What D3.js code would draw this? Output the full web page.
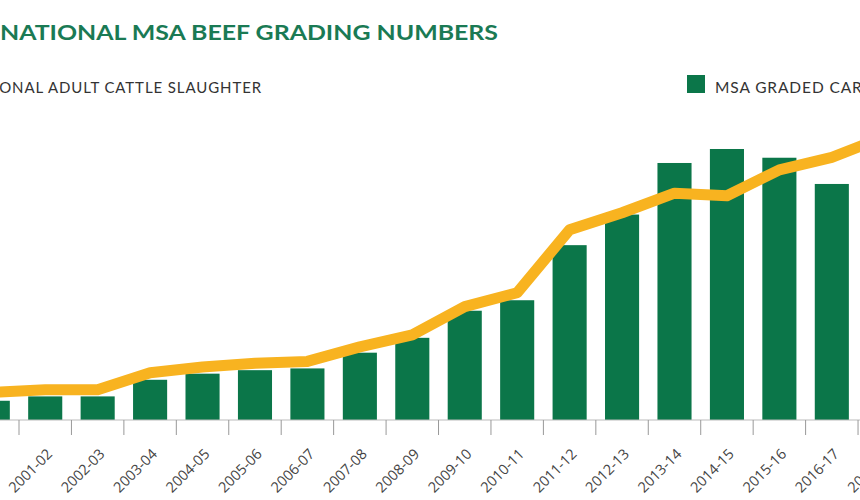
<!DOCTYPE html>
<html>
<head>
<meta charset="utf-8">
<script src="https://cdnjs.cloudflare.com/ajax/libs/d3/7.8.5/d3.min.js"></script>
<style>
  body { margin: 0; background: #fff; }
  svg { display: block; }
  .title { font-family: Lato, "Open Sans", sans-serif; font-weight: 700; fill: #1a7a54; }
  .legend { font-family: Lato, "Open Sans", sans-serif; fill: #333; }
  .tickLabel { font-family: "Open Sans", sans-serif; font-size: 14.5px; fill: #444; }
</style>
</head>
<body>
<div class="chart"></div>
<script>
// seasons (first and last are cut by the picture frame)
var seasons = ["2000-01", "2001-02", "2002-03", "2003-04", "2004-05", "2005-06",
    "2006-07", "2007-08", "2008-09", "2009-10", "2010-11", "2011-12", "2012-13",
    "2013-14", "2014-15", "2015-16", "2016-17", "2017-18"];

// MSA graded carcases (millions, estimated)
var graded = [0.22, 0.27, 0.27, 0.46, 0.53, 0.57, 0.59, 0.77, 0.94, 1.25,
    1.37, 2.00, 2.35, 2.94, 3.10, 3.00, 2.70, 3.20];

// % of national adult cattle slaughter (estimated)
var share = [4.4, 4.8, 4.8, 7.5, 8.4, 9.0, 9.3, 11.6, 13.5, 18.0,
    20.2, 30.2, 32.9, 36.0, 35.6, 39.7, 41.7, 44.9];

var svgWidth = 860;
var svgHeight = 500;
var baseY = 420;
var step = 52.44;
var firstEdge = 19 - step;

var svg = d3.select(".chart")
    .append("svg")
    .attr("width", svgWidth)
    .attr("height", svgHeight);

var xBand = d3.scaleBand()
    .domain(seasons)
    .range([firstEdge, firstEdge + step * seasons.length])
    .paddingInner(0.35)
    .paddingOuter(0.175);

var yBar = d3.scaleLinear()
    .domain([0, 4])
    .range([baseY, baseY - 4 * 87.42]);

var yLine = d3.scaleLinear()
    .domain([0, 50])
    .range([baseY, baseY - 50 * 6.3]);

function center(d) {
    return xBand(d) + xBand.bandwidth() / 2;
}

// title
svg.append("text")
    .attr("class", "title")
    .attr("x", 0)
    .attr("y", 40)
    .attr("font-size", 20)
    .attr("textLength", 498)
    .attr("lengthAdjust", "spacingAndGlyphs")
    .text("NATIONAL MSA BEEF GRADING NUMBERS");

// legend - line series (left part is outside the frame)
svg.append("text")
    .attr("class", "legend")
    .attr("x", 262)
    .attr("y", 93)
    .attr("font-size", 15)
    .attr("letter-spacing", 0.9)
    .attr("text-anchor", "end")
    .text("% OF NATIONAL ADULT CATTLE SLAUGHTER");

// legend - bars
svg.append("rect")
    .attr("x", 687)
    .attr("y", 75)
    .attr("width", 18)
    .attr("height", 18)
    .attr("fill", "#0b7649");
svg.append("text")
    .attr("class", "legend")
    .attr("x", 715)
    .attr("y", 93)
    .attr("font-size", 15.5)
    .attr("letter-spacing", 0.9)
    .text("MSA GRADED CARCASES");

var chart = svg.append("g");

chart.selectAll("rect.bar")
    .data(seasons)
    .enter().append("rect")
        .attr("class", "bar")
        .attr("x", function(d) { return xBand(d); })
        .attr("y", function(d, i) { return yBar(graded[i]); })
        .attr("width", xBand.bandwidth())
        .attr("height", function(d, i) { return baseY - yBar(graded[i]); })
        .attr("fill", "#0b7649");

// axis baseline and ticks between bands
chart.append("line")
    .attr("x1", 0).attr("x2", svgWidth)
    .attr("y1", baseY).attr("y2", baseY)
    .attr("stroke", "#bbb")
    .attr("stroke-width", 1);

chart.selectAll("line.tick")
    .data(seasons)
    .enter().append("line")
        .attr("class", "tick")
        .attr("x1", function(d) { return center(d) + step / 2; })
        .attr("x2", function(d) { return center(d) + step / 2; })
        .attr("y1", baseY)
        .attr("y2", baseY + 15)
        .attr("stroke", "#999")
        .attr("stroke-width", 1);

chart.selectAll("text.tickLabel")
    .data(seasons)
    .enter().append("text")
        .attr("class", "tickLabel")
        .attr("text-anchor", "end")
        .attr("transform", function(d) {
            return "translate(" + (center(d) + 8) + "," + 455 + ") rotate(-45)";
        })
        .text(function(d) { return d; });

var line = d3.line()
    .x(function(d) { return center(d); })
    .y(function(d, i) { return yLine(share[i]); });

chart.append("path")
    .datum(seasons)
    .attr("d", line)
    .attr("fill", "none")
    .attr("stroke", "#f8b320")
    .attr("stroke-width", 11)
    .attr("stroke-linejoin", "round");
</script>
</body>
</html>
